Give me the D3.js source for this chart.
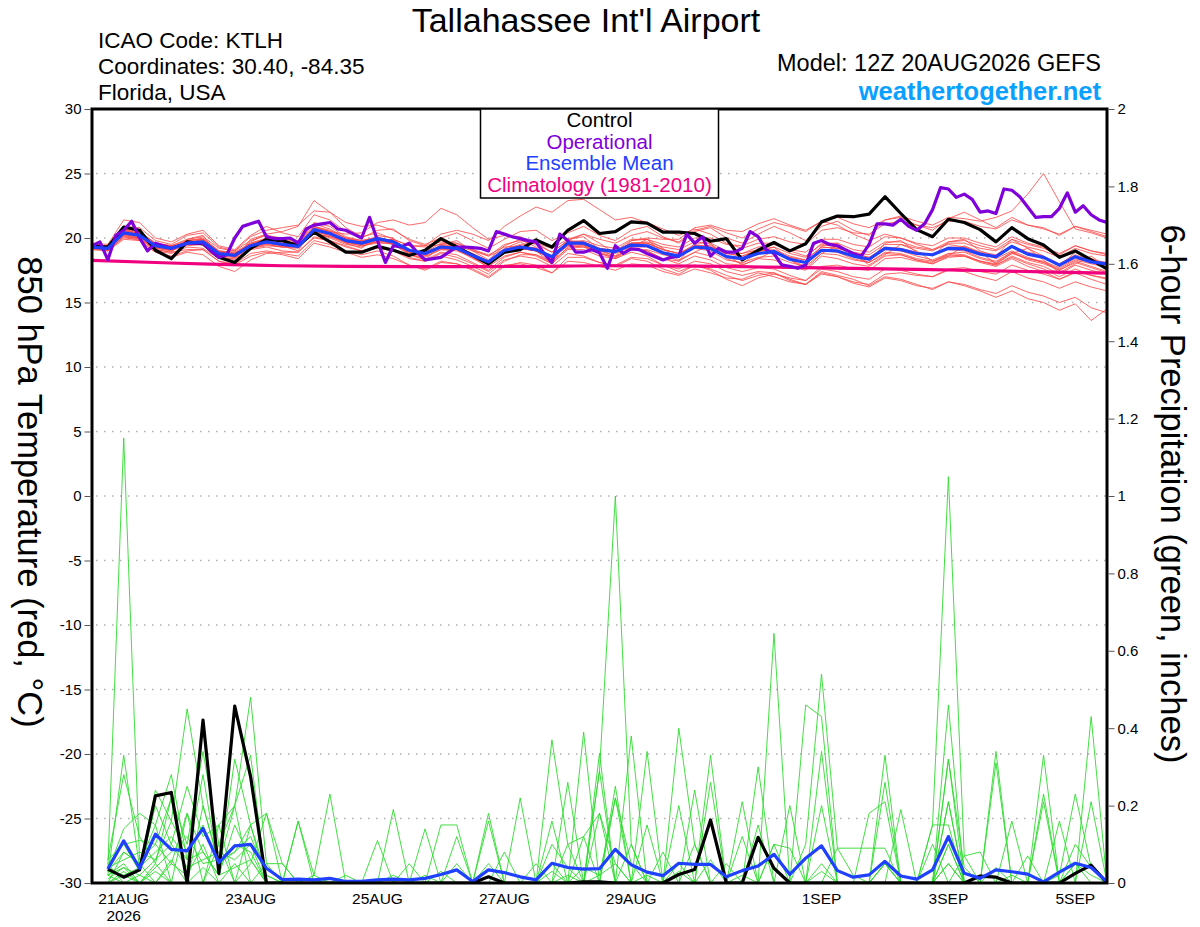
<!DOCTYPE html>
<html>
<head>
<meta charset="utf-8">
<script src="https://cdn.jsdelivr.net/npm/d3@7"></script>
<style>
body{margin:0;background:#fff;}
text{font-family:"Liberation Sans",Arial,Helvetica,sans-serif;}
</style>
</head>
<body>
<div id="chart"></div>
<script>
// ---- DATA ----
// 6-hourly from 12Z 20AUG2026, 850 hPa temperature in C
let controlTemp = [19.4,19.3,20.85,20.6,19.05,18.4,19.7,19.55,18.5,18.1,
  19.2,19.9,19.8,19.4,20.45,19.7,18.9,18.9,19.35,19.05,
  18.65,19.05,19.95,19.3,18.65,18.0,18.9,19.1,19.85,19.3,
  20.6,21.35,20.35,20.5,21.25,21.15,20.45,20.45,20.35,19.75,
  19.95,18.3,19.05,19.65,19.0,19.55,21.25,21.7,21.65,21.85,
  23.2,21.9,20.65,20.1,21.45,21.2,20.65,19.7,20.8,19.95,
  19.45,18.5,19.0,18.3,17.6];

let meanTemp = [19.3,19.2,20.4,20.2,19.4,19.2,19.6,19.7,18.8,18.65,
  19.4,19.7,19.5,19.35,20.65,20.35,19.8,19.6,19.95,19.7,
  19.05,18.8,19.3,19.2,18.65,18.15,19.05,19.3,19.1,18.55,
  19.6,19.6,19.1,18.95,19.45,19.4,18.85,18.6,19.3,19.2,
  18.55,18.4,18.8,18.95,18.35,18.1,19.05,19.0,18.6,18.35,
  19.2,19.1,18.8,18.7,19.2,19.15,18.75,18.55,19.35,18.75,
  18.5,17.9,18.55,18.15,18.0];

// operational run is 3-hourly
let operationalTemp = [19.4,19.7,18.3,20.2,20.6,21.3,20.0,19.0,19.6,19.4,19.2,19.4,19.6,19.6,19.6,19.0,
  18.5,18.7,20.0,20.9,21.1,21.3,20.1,19.95,19.95,20.0,19.6,20.7,21.0,21.1,21.2,20.7,
  20.6,20.3,20.0,21.6,19.8,18.1,19.4,19.3,19.6,18.9,18.3,18.4,18.5,18.9,19.3,19.3,
  19.25,19.2,19.0,20.5,20.3,20.1,19.95,19.8,19.7,18.8,18.1,20.3,19.8,18.9,18.9,19.1,
  18.85,
  17.65,19.4,18.8,19.15,19.1,18.8,18.55,18.3,18.5,18.6,20.3,19.6,20.1,18.6,19.2,
  18.9,18.9,19.2,20.5,20.1,19.1,18.8,17.9,17.8,17.65,17.9,19.6,19.8,19.5,19.4,19.1,
  18.8,18.6,19.5,21.1,21.1,21.0,21.45,20.9,20.6,21.1,22.2,23.9,23.8,23.15,23.4,23.0,
  22.0,22.1,21.9,23.8,23.7,23.2,22.4,21.6,21.65,21.65,22.3,23.5,22.0,22.5,21.8,21.4,21.2];

// daily at 12Z, 20AUG .. 5SEP
let climatologyTemp = [18.27,18.1,17.95,17.85,17.8,17.78,17.78,17.8,17.85,17.84,17.8,17.72,17.65,17.57,17.48,17.38,17.27];

let memberTemp = [
 [19.5,19.4,20.9,20.8,19.8,19.5,20.2,20.4,19.3,19.0, 20.1,20.6,20.8,21.0,22.1,22.0,21.2,20.9,21.0,20.6, 19.9,19.5,20.0,20.4,19.8,19.2,19.9,20.5,20.6,19.8, 20.4,20.9,20.2,19.8,20.6,20.9,20.1,19.6,20.5,20.8, 20.0,19.6,20.3,20.9,20.4,19.8,20.9,21.3,20.6,20.2, 21.4,21.6,21.0,20.6,21.5,22.0,21.4,20.8,21.6,21.0, 20.8,20.2,20.9,20.5,20.1],
 [19.1,19.0,19.9,19.8,18.9,18.6,19.0,19.1,18.2,17.9, 18.6,18.9,18.7,18.4,19.6,19.3,18.9,18.5,18.7,18.4, 17.9,17.5,18.1,18.0,17.6,17.0,17.9,18.0,17.7,17.3, 18.2,18.1,17.8,17.5,18.0,17.9,17.4,17.1,17.6,17.3, 16.9,16.8,17.3,17.0,16.6,16.4,17.2,17.0,16.5,16.2, 16.9,16.7,16.3,16.1,16.6,16.4,16.0,15.7,16.3,15.8, 15.5,15.0,15.4,14.6,14.2],
 [19.4,19.1,20.7,20.5,19.3,19.0,19.8,20.0,19.0,18.5, 19.7,20.3,20.5,20.9,22.9,22.0,20.8,20.1,20.4,19.9, 19.0,18.6,19.5,19.8,19.0,18.3,19.4,19.9,19.3,18.2, 19.8,20.3,19.6,18.8,19.3,19.9,19.2,18.3,18.9,19.5, 18.7,17.9,18.4,19.0,18.3,17.6,18.8,19.4,18.8,17.9, 18.7,19.5,19.0,18.2,18.6,19.4,18.9,18.0,18.8,19.2, 18.3,17.3,18.0,18.6,17.7],
 [19.2,19.3,20.2,20.0,19.5,19.4,19.5,19.6,18.9,18.9, 19.2,19.4,19.3,19.5,20.3,20.1,19.7,19.5,19.7,19.9, 19.4,19.3,19.5,19.4,19.0,18.6,19.1,19.5,19.6,19.2, 19.9,20.3,19.9,19.6,20.2,20.5,20.0,19.7,20.6,20.9, 20.4,20.0,20.7,21.2,20.9,20.5,21.3,21.6,21.1,20.8, 21.4,21.7,21.3,21.0,21.6,21.5,21.3,21.6,22.1,23.4, 25.0,22.8,20.7,20.4,20.0],
 [19.3,19.0,20.1,20.0,19.0,18.8,19.3,19.2,18.4,18.4, 19.1,19.3,19.0,18.9,20.1,19.8,19.4,19.0,19.3,19.1, 18.5,18.2,18.8,18.5,18.0,17.4,18.3,18.6,18.4,17.8, 18.8,18.6,18.1,17.8,18.4,18.2,17.6,17.2,17.9,17.6, 17.1,16.7,17.1,17.3,16.8,16.4,17.4,17.1,16.8,16.3, 17.0,16.8,16.4,16.0,16.6,16.3,15.9,15.4,15.9,15.3, 15.0,14.4,14.9,13.6,14.5],
 [19.6,19.5,21.4,21.2,20.0,19.7,20.3,20.6,19.4,19.1, 20.2,20.9,20.4,20.1,21.8,21.4,20.5,20.0,20.6,20.7, 19.8,19.4,19.7,19.6,19.1,18.7,19.3,19.4,19.0,18.5, 19.7,19.5,18.9,18.5,19.2,19.0,18.4,18.2,18.9,18.6, 18.0,17.9,18.4,18.3,17.8,17.5,18.6,18.4,18.0,17.8, 18.6,18.7,18.3,18.1,18.8,18.9,18.4,18.1,18.9,18.3, 18.0,17.5,18.2,17.8,17.4],
 [19.2,19.1,20.3,20.1,19.3,19.1,19.4,19.5,18.7,18.6, 19.3,19.5,19.3,19.2,20.4,20.0,19.5,19.3,19.8,19.9, 19.4,19.4,20.3,20.6,20.3,19.8,20.9,21.7,22.4,22.0, 22.9,23.0,22.2,21.4,21.6,21.2,20.7,20.2,20.7,20.3, 19.6,19.2,19.6,19.6,19.0,18.6,19.5,19.3,18.8,18.5, 19.3,19.2,18.9,18.7,19.1,19.0,18.5,18.2,18.9,18.4, 18.1,17.6,18.3,18.0,17.7],
 [19.3,19.3,20.6,20.3,19.5,19.1,19.8,19.9,18.9,18.6, 19.5,19.9,19.8,19.6,21.2,20.9,20.1,19.8,20.1,19.7, 18.8,18.3,18.9,18.7,18.1,17.5,18.5,18.9,18.7,18.0, 19.3,19.4,18.8,18.5,19.3,19.3,18.8,18.5,19.4,19.4, 18.8,18.6,19.1,19.3,18.8,18.5,19.6,19.6,19.1,18.9, 19.7,19.7,19.3,19.1,19.7,19.8,19.4,19.1,19.9,19.5, 19.2,18.7,19.4,19.0,18.8],
 [19.1,19.1,20.0,19.9,19.1,18.9,19.1,19.1,18.2,18.0, 18.8,19.0,18.8,18.6,19.8,19.5,19.0,18.7,19.0,18.6, 17.9,17.6,18.2,18.0,17.5,16.9,17.8,18.1,17.9,17.3, 18.5,18.5,18.1,17.9,18.5,18.4,17.9,17.6,18.2,18.0, 17.4,17.1,17.4,17.3,16.7,16.4,17.3,17.0,16.6,16.4, 17.2,17.3,17.1,17.0,17.6,17.7,17.4,17.2,17.9,17.5, 17.2,16.8,17.4,17.1,16.9],
 [19.4,19.2,20.5,20.4,19.6,19.3,19.6,19.9,19.0,18.8, 19.4,19.8,19.5,19.4,20.6,20.4,19.8,19.6,19.9,19.5, 18.9,18.7,19.2,19.2,18.8,18.2,19.0,19.4,19.2,18.6, 19.7,19.8,19.4,19.2,19.9,19.9,19.5,19.3,20.0,20.0, 19.5,19.4,19.9,20.1,19.7,19.5,20.6,20.8,20.4,20.3, 21.1,21.3,21.0,20.8,21.3,21.3,20.9,20.7,21.4,21.0, 20.7,20.3,20.9,20.6,20.3],
 [19.3,19.1,20.2,19.9,19.2,19.1,19.5,19.6,18.6,18.5, 19.2,19.5,19.3,19.3,20.5,20.2,19.7,19.4,19.6,19.6, 19.0,18.9,19.6,19.6,19.1,18.6,19.5,19.8,19.5,18.9, 19.8,19.6,19.0,18.6,19.2,19.0,18.4,18.0,18.6,18.3, 17.7,17.4,17.7,17.6,17.1,16.7,17.6,17.4,17.0,16.8, 17.6,17.5,17.2,17.0,17.5,17.4,17.0,16.7,17.4,16.9, 16.6,16.1,16.6,16.2,15.9],
 [19.2,19.2,20.4,20.2,19.3,19.2,19.7,19.8,18.9,18.8, 19.6,20.0,19.9,19.7,20.9,20.6,20.0,19.7,19.9,19.5, 18.7,18.5,19.1,19.1,18.6,18.0,18.9,19.2,19.0,18.4, 19.4,19.4,19.0,18.9,19.6,19.7,19.3,19.1,19.7,19.6, 19.0,18.8,19.1,19.0,18.5,18.1,19.0,18.9,18.4,18.1, 18.8,18.7,18.3,18.0,18.5,18.6,18.2,18.0,18.8,18.4, 18.2,17.7,18.4,18.1,17.9],
 [19.3,19.2,20.3,20.3,19.4,19.3,19.7,19.7,18.8,18.7, 19.5,19.9,19.7,19.6,20.8,20.5,20.3,20.4,21.2,21.4, 21.0,21.2,22.3,21.8,20.8,19.9,20.2,20.1,19.6,18.9, 19.8,19.7,19.2,19.0,19.6,19.6,19.1,18.8,19.4,19.2, 18.6,18.4,18.8,18.9,18.4,18.1,19.1,19.0,18.6,18.4, 19.2,19.1,18.8,18.7,19.3,19.3,18.9,18.7,19.4,18.9, 18.6,18.0,18.7,18.3,18.1],
 [19.2,19.0,20.1,19.8,18.9,18.5,18.9,18.7,17.8,17.4, 18.3,18.8,18.9,18.9,20.0,19.8,19.3,19.0,19.2,19.0, 18.4,18.2,18.6,18.3,17.8,17.2,18.2,18.7,18.7,18.2, 19.2,19.3,19.0,18.9,19.6,19.6,19.1,18.8,19.3,19.1, 18.5,18.3,18.8,18.9,18.5,18.3,19.3,19.2,18.8,18.5, 19.1,19.0,18.6,18.3,18.8,18.7,18.2,17.9,18.5,18.0, 17.6,17.0,17.6,17.1,16.8],
 [19.4,19.3,20.6,20.5,19.6,19.4,19.9,20.1,19.2,19.0, 19.8,20.2,20.0,19.8,21.1,20.7,20.0,19.7,20.0,19.8, 19.1,18.8,19.3,19.1,18.4,17.8,18.6,18.9,18.6,18.0, 19.1,19.1,18.6,18.4,19.1,19.1,18.7,18.5,19.3,19.3, 18.9,18.8,19.3,19.5,19.1,18.9,19.9,19.9,19.5,19.3, 20.1,20.0,19.6,19.4,20.0,20.0,19.6,19.3,20.1,19.6, 19.3,18.8,19.4,19.0,18.7],
 [19.3,19.2,20.4,20.1,19.3,19.2,19.6,19.6,18.7,18.6, 19.3,19.6,19.4,19.3,20.5,20.2,19.7,19.5,19.8,19.6, 18.9,18.7,19.2,19.1,18.6,18.0,18.9,19.2,19.0,18.4, 19.4,19.3,18.8,18.4,18.9,18.6,17.9,17.4,17.9,17.5, 16.8,16.3,16.9,17.2,16.9,16.7,17.8,17.9,17.6,17.5, 18.4,18.5,18.2,18.0,18.6,18.6,18.2,17.9,18.6,18.1, 17.8,17.2,17.9,17.5,17.2],
 [19.5,19.3,20.5,20.3,19.5,19.3,19.7,19.8,18.9,18.8, 19.5,19.8,19.6,19.5,20.7,20.4,19.9,19.7,20.0,19.8, 19.1,18.9,19.4,19.3,18.8,18.2,19.1,19.4,19.2,18.6, 19.7,19.7,19.2,19.0,19.8,20.0,19.9,19.9,20.8,21.0, 20.6,20.5,21.1,21.5,21.0,20.6,21.3,21.0,20.3,19.8, 20.3,20.0,19.5,19.1,19.5,19.3,18.8,18.4,19.0,18.5, 18.1,17.5,18.1,17.7,17.3],
 [19.2,19.1,20.3,20.0,19.2,19.0,19.5,19.5,18.6,18.5, 19.3,19.6,19.4,19.3,20.4,20.1,19.6,19.4,19.7,19.5, 18.8,18.6,19.1,19.0,18.5,17.9,18.8,19.2,19.0,18.4, 19.5,19.5,19.1,18.9,19.5,19.4,18.9,18.6,19.2,19.0, 18.3,18.1,18.5,18.6,18.1,17.8,18.8,18.7,18.3,18.1, 18.9,18.8,18.4,18.2,18.7,18.6,18.1,17.8,18.4,17.8, 17.4,16.8,17.3,16.8,16.4],
 [19.3,19.4,20.8,20.1,19.1,18.9,19.9,20.2,18.6,18.3, 19.9,20.3,19.4,19.0,20.9,20.5,19.6,19.2,20.2,20.0, 18.7,18.3,19.4,19.5,18.5,17.7,19.2,19.7,19.0,18.0, 19.9,20.1,19.1,18.6,19.8,19.9,18.8,18.2,19.6,19.6, 18.4,18.0,18.9,19.3,18.3,17.8,19.4,19.6,18.6,18.1, 19.6,19.8,18.9,18.6,19.7,19.9,19.0,18.6,19.9,19.2, 18.6,17.8,18.9,18.4,18.0],
 [19.4,19.3,20.6,20.4,19.6,19.4,19.8,19.9,19.0,18.9, 19.6,19.9,19.7,19.6,20.8,20.5,20.0,19.8,20.0,19.7, 19.0,18.8,19.3,19.2,18.6,18.0,18.9,19.2,19.0,18.5, 19.6,19.6,19.2,19.0,19.6,19.6,19.1,18.8,19.5,19.3, 18.8,18.6,19.0,19.1,18.6,18.3,19.3,19.2,18.9,18.7, 19.5,19.5,19.2,19.0,19.6,19.6,19.2,19.0,19.7,19.3, 19.0,18.5,19.2,18.8,18.6]
];

// 6-hour precipitation (inches), periods ending 18Z 20AUG .. 12Z 5SEP
let controlPrecip = [0.036,0.015,0.034,0.225,0.234,0,0.421,0.025,0.457,0.275,
  0,0,0,0,0,0,0,0,0,0,
  0,0,0,0,0.016,0,0,0,0,0,
  0.003,0.003,0,0,0,0,0.022,0.035,0.163,0,
  0,0.118,0.038,0,0,0,0,0,0,0,
  0,0,0,0,0,0.018,0.015,0,0,0,
  0,0.025,0.046,0];

let meanPrecip = [0.036,0.109,0.038,0.126,0.087,0.083,0.141,0.053,0.096,0.1,
  0.038,0.009,0.01,0.008,0.012,0.004,0.004,0.008,0.01,0.008,
  0.012,0.022,0.034,0.004,0.034,0.027,0.016,0.008,0.051,0.04,
  0.036,0.037,0.087,0.047,0.028,0.019,0.051,0.048,0.048,0.016,
  0.032,0.044,0.074,0.022,0.064,0.096,0.032,0.015,0.021,0.056,
  0.018,0.01,0.034,0.12,0.025,0.012,0.034,0.029,0.023,0.003,
  0.028,0.051,0.04,0.003];

let memberPrecip = [
 [0.04,1.15,0.06,0.10,0.05,0.18,0.08,0.02,0.15,0.06,0,0,0,0,0.01,0, 0,0,0.02,0,0,0.03,0,0,0.05,0,0,0,0.10,0.04,0,0.02, 0.22,0.05,0,0,0.03,0,0,0,0.02,0,0.10,0,0,0.03,0,0, 0,0.05,0,0,0,0.32,0.04,0,0,0.02,0,0,0,0.05,0.02,0],
 [0.02,0.33,0.04,0.24,0.16,0.45,0.20,0.05,0.08,0.15,0.02,0,0,0,0,0, 0,0,0,0,0.02,0,0,0,0,0,0,0,0.03,0,0.12,0.18, 0.05,0,0.02,0,0,0,0.06,0,0,0,0,0,0.10,0.54,0.09,0.02, 0,0,0,0,0,0.05,0,0,0,0,0,0,0.02,0.23,0.04,0],
 [0.06,0.28,0.12,0.05,0.22,0.10,0.34,0.10,0.20,0.48,0.05,0,0,0,0,0, 0,0,0,0,0,0,0,0,0,0,0,0,0,0,0,0, 0,0,0,0,0,0,0,0,0,0,0,0,0,0,0,0, 0,0.05,0,0,0,0.21,0,0,0,0,0,0,0,0,0,0],
 [0.03,0.14,0.18,0.15,0.28,0.06,0.28,0.03,0.32,0.15,0.18,0.05,0,0,0,0, 0,0,0,0,0,0,0,0,0,0,0,0,0,0.02,0,0.29, 1.00,0.10,0,0,0,0,0,0,0,0,0,0,0,0,0,0, 0,0,0,0,0,0.05,0,0,0,0,0,0,0,0,0,0],
 [0.05,0.10,0.03,0.20,0.10,0.25,0.12,0.15,0.20,0.33,0,0,0.16,0.02,0,0, 0,0,0,0,0,0,0,0,0,0,0,0,0,0,0,0, 0,0,0,0,0,0,0,0,0,0,0,0,0,0,0,0, 0,0,0,0,0.15,1.05,0.07,0,0,0,0,0,0,0,0,0],
 [0,0.08,0.05,0,0.05,0.02,0.10,0,0.05,0,0,0,0,0.02,0.23,0, 0,0,0,0,0,0,0,0,0,0,0,0,0.37,0.10,0,0, 0,0,0,0,0,0,0,0,0,0,0,0,0,0.34,0,0, 0,0,0,0,0,0,0,0,0,0,0,0,0,0,0,0],
 [0.02,0.05,0,0,0,0,0,0,0,0,0,0,0,0,0,0, 0,0,0.19,0,0,0.15,0.15,0,0,0,0,0,0,0,0,0, 0,0,0,0,0.40,0.10,0,0,0,0,0,0,0,0,0,0, 0,0.33,0,0,0,0,0,0,0,0,0,0,0,0,0,0],
 [0,0.03,0,0.05,0,0,0.04,0,0,0.05,0.18,0,0,0,0,0, 0,0,0,0,0,0,0,0,0.18,0,0,0,0,0,0.39,0, 0,0,0,0,0,0,0,0,0,0,0.645,0,0,0,0,0, 0,0,0,0,0,0,0,0,0.34,0,0,0,0,0,0,0],
 [0,0,0.02,0,0,0,0,0,0,0,0,0,0,0,0,0, 0,0,0,0,0.14,0,0,0,0,0,0.22,0,0,0.26,0,0, 0,0.38,0,0,0,0,0,0,0,0,0,0,0.46,0.43,0,0, 0,0,0,0,0,0,0,0,0,0,0,0.33,0,0,0,0],
 [0.03,0.02,0,0,0.06,0,0,0,0,0,0,0,0,0,0,0, 0,0.11,0,0,0,0,0,0,0,0,0,0,0,0,0,0.335, 0,0,0.34,0,0,0,0.33,0,0,0,0,0,0,0,0,0, 0,0,0,0,0,0.46,0,0,0,0,0,0,0,0,0.43,0],
 [0.05,0,0,0.03,0,0,0,0,0,0,0,0,0,0,0,0, 0,0,0,0,0,0,0.12,0,0.16,0,0,0,0.16,0,0,0, 0,0,0,0,0,0.24,0,0,0,0.30,0,0,0,0,0,0, 0,0.26,0,0,0,0.32,0,0,0,0,0,0,0,0,0,0],
 [0,0,0,0,0,0,0,0,0,0,0,0,0.16,0,0,0, 0,0,0,0,0,0,0,0,0,0,0,0,0,0,0,0, 0.25,0,0,0,0.20,0,0.26,0,0,0,0,0.20,0,0.20,0,0, 0,0,0,0,0,0,0,0,0.31,0,0,0.23,0,0,0,0],
 [0,0,0,0,0,0,0,0,0,0,0,0,0,0,0,0, 0,0,0,0,0,0,0,0,0,0,0,0,0,0,0,0.29, 0,0,0,0,0,0,0,0,0.21,0,0,0,0,0,0,0, 0.18,0.21,0,0,0,0.21,0,0,0,0.16,0,0.21,0,0,0,0],
 [0.06,0.10,0.11,0.10,0.22,0,0,0.10,0,0.15,0,0,0,0,0,0, 0,0,0,0,0,0,0,0,0,0,0,0,0,0,0,0, 0.22,0,0,0,0,0,0,0,0,0,0,0,0,0,0,0, 0,0,0.19,0,0,0,0,0,0,0,0,0,0.16,0,0.21,0],
 [0.02,0.04,0,0,0,0,0.20,0.05,0.20,0,0,0,0,0,0,0, 0,0,0,0,0,0,0,0,0,0,0,0,0,0.10,0.12,0, 0,0,0.15,0,0,0,0,0,0,0.15,0,0,0,0,0,0, 0,0,0,0,0.15,0.15,0,0,0,0,0,0,0,0,0,0],
 [0.03,0.08,0.05,0.15,0,0.18,0,0.15,0,0,0.05,0.05,0,0,0,0, 0,0,0,0.05,0,0,0,0,0,0.08,0,0,0,0,0,0.18, 0,0.10,0,0.08,0,0,0,0,0.12,0,0,0,0,0,0.09,0.09, 0.09,0.09,0,0,0.10,0,0.07,0.08,0,0,0.07,0,0,0,0,0],
 [0.04,0.06,0.08,0.06,0.16,0.08,0.15,0.04,0.10,0.08,0,0,0,0,0,0.02, 0,0,0,0,0,0,0.05,0,0,0,0,0.05,0,0,0,0, 0,0,0,0,0,0.10,0,0.05,0,0,0.10,0.09,0,0,0,0, 0,0,0,0,0,0,0,0,0,0,0,0,0,0.05,0,0],
 [0,0.02,0.04,0.08,0.12,0.06,0.08,0.02,0.04,0.06,0,0,0,0,0,0, 0,0,0,0,0,0,0,0,0,0,0,0,0.05,0,0.04,0.02, 0.05,0,0,0,0.05,0,0,0,0,0,0,0,0,0.05,0,0, 0,0.05,0,0,0,0.10,0,0,0,0,0,0,0,0.10,0.04,0],
 [0.02,0,0,0.04,0.08,0.12,0.05,0.06,0.08,0.12,0.02,0,0,0,0,0, 0,0,0,0,0,0,0,0,0,0,0,0,0,0,0,0, 0,0,0,0,0,0,0,0,0,0,0,0,0,0,0,0, 0,0,0,0,0,0,0,0,0.04,0,0,0,0,0,0,0],
 [0.01,0.04,0.02,0.06,0.10,0.04,0.06,0.08,0.06,0.10,0,0,0,0,0,0, 0,0,0,0,0,0,0,0,0,0,0,0,0,0,0,0, 0,0,0,0,0,0,0,0,0,0,0,0,0,0,0,0, 0,0,0,0,0,0.10,0,0,0,0,0,0,0,0,0,0]
];

// axes
let tempTicks = [30,25,20,15,10,5,0,-5,-10,-15,-20,-25,-30];
let precipTicks = [0,0.2,0.4,0.6,0.8,1,1.2,1.4,1.6,1.8,2];
let dayTicks = ["2026-08-21","2026-08-23","2026-08-25","2026-08-27","2026-08-29","2026-09-01","2026-09-03","2026-09-05"];
let dayLabels = ["21AUG","23AUG","25AUG","27AUG","29AUG","1SEP","3SEP","5SEP"];
let legendItems = ["Control","Operational","Ensemble Mean","Climatology (1981-2010)"];

// ---- LAYOUT ----
let width = 1200, height = 927;
let plot = {left:92, right:1107, top:109, bottom:883};
let hour = 3600*1000;
let runStart = Date.UTC(2026,7,20,12);

let colors = {control:"#000000", operational:"#7f00d9", mean:"#2040ff", clim:"#f0007f",
              member:"#ff4545", precip:"#2edb2e"};

let svg = d3.select("#chart").append("svg")
  .attr("width",width)
  .attr("height",height)
  .style("background","#fff");

let x = d3.scaleUtc()
  .domain([new Date(runStart), new Date(runStart + 384*hour)])
  .range([plot.left, plot.right]);
let yT = d3.scaleLinear().domain([-30,30]).range([plot.bottom, plot.top]);
let yP = d3.scaleLinear().domain([0,2]).range([plot.bottom, plot.top]);

// line generators, step in hours and offset of first value
function lineFor(y, step, offset){
  return d3.line()
    .x((d,i)=>x(new Date(runStart + (offset + i*step)*hour)))
    .y(d=>y(d));
}
let tempLine = lineFor(yT,6,0),
    opLine = lineFor(yT,3,0),
    precipLine = lineFor(yP,6,6),
    climLine = lineFor(yT,24,0).curve(d3.curveMonotoneX);

svg.append("defs").append("clipPath").attr("id","plotclip")
  .append("rect")
  .attr("x",plot.left).attr("y",plot.top)
  .attr("width",plot.right-plot.left).attr("height",plot.bottom-plot.top);

// dotted grid
svg.append("g").selectAll("line")
  .data(tempTicks.filter(d=>d>-30 && d<30))
  .enter().append("line")
    .attr("x1",plot.left+4).attr("x2",plot.right)
    .attr("y1",d=>yT(d)).attr("y2",d=>yT(d))
    .attr("stroke","#b0b0b0")
    .attr("stroke-width",1.3)
    .attr("stroke-dasharray","1.5,6.5");

let g = svg.append("g").attr("clip-path","url(#plotclip)");

// ensemble members
g.append("g").selectAll("path").data(memberTemp)
  .enter().append("path")
    .attr("d",tempLine)
    .attr("fill","none")
    .attr("stroke",colors.member)
    .attr("stroke-opacity",0.9)
    .attr("stroke-width",0.9);

g.append("g").selectAll("path").data(memberPrecip)
  .enter().append("path")
    .attr("d",precipLine)
    .attr("fill","none")
    .attr("stroke",colors.precip)
    .attr("stroke-width",0.9);

// main series
function heavy(d, gen, color){
  g.append("path").datum(d)
    .attr("d",gen)
    .attr("fill","none")
    .attr("stroke",color)
    .attr("stroke-width",3.2)
    .attr("stroke-linejoin","round");
}
heavy(climatologyTemp, climLine, colors.clim);
heavy(controlPrecip, precipLine, colors.control);
heavy(meanPrecip, precipLine, colors.mean);
heavy(controlTemp, tempLine, colors.control);
heavy(operationalTemp, opLine, colors.operational);
heavy(meanTemp, tempLine, colors.mean);

// frame
svg.append("rect")
  .attr("x",plot.left).attr("y",plot.top)
  .attr("width",plot.right-plot.left).attr("height",plot.bottom-plot.top)
  .attr("fill","none").attr("stroke","#000").attr("stroke-width",3);

// left axis
let leftAxis = svg.append("g")
  .attr("transform","translate("+(plot.left-1.5)+",0)")
  .call(d3.axisLeft(yT).tickValues(tempTicks).tickSize(6).tickPadding(3).tickFormat(d=>String(d)));
leftAxis.select(".domain").remove();

// right axis
let rightAxis = svg.append("g")
  .attr("transform","translate("+(plot.right+1.5)+",0)")
  .call(d3.axisRight(yP).tickValues(precipTicks).tickSize(6).tickPadding(3).tickFormat(d=>String(d)));
rightAxis.select(".domain").remove();

svg.selectAll(".tick text")
  .style("font-family","'Liberation Sans',Arial,sans-serif")
  .style("font-size","15px")
  .attr("fill","#000");
svg.selectAll(".tick line").attr("stroke","#555");

// date labels
let xl = svg.append("g");
xl.selectAll("text").data(dayTicks)
  .enter().append("text")
    .attr("x",d=>x(new Date(d+"T00:00:00Z")))
    .attr("y",904)
    .attr("text-anchor","middle")
    .style("font-size","15.5px")
    .text((d,i)=>dayLabels[i]);
xl.append("text")
  .attr("x",x(new Date(dayTicks[0]+"T00:00:00Z")))
  .attr("y",921)
  .attr("text-anchor","middle")
  .style("font-size","15.5px")
  .text("2026");

// axis titles
svg.append("text")
  .attr("transform","translate(18,492) rotate(90)")
  .attr("text-anchor","middle")
  .style("font-size","34.5px")
  .text("850 hPa Temperature (red, °C)");
svg.append("text")
  .attr("transform","translate(1161,494) rotate(90)")
  .attr("text-anchor","middle")
  .style("font-size","34.5px")
  .text("6-hour Precipitation (green, inches)");

// header texts
svg.append("text")
  .attr("x",586).attr("y",32)
  .attr("text-anchor","middle")
  .style("font-size","34px")
  .text("Tallahassee Int'l Airport");

let info = ["ICAO Code: KTLH","Coordinates: 30.40, -84.35","Florida, USA"];
svg.append("g").selectAll("text").data(info)
  .enter().append("text")
    .attr("x",98)
    .attr("y",(d,i)=>48 + i*26)
    .style("font-size","22.5px")
    .text(d=>d);

svg.append("text")
  .attr("x",1101).attr("y",71)
  .attr("text-anchor","end")
  .style("font-size","23.5px")
  .text("Model: 12Z 20AUG2026 GEFS");
svg.append("text")
  .attr("x",1101).attr("y",100)
  .attr("text-anchor","end")
  .style("font-size","25.5px")
  .style("font-weight","bold")
  .attr("fill","#0aa0ff")
  .text("weathertogether.net");

// legend
let legendColors = [colors.control, colors.operational, colors.mean, colors.clim];
let legend = svg.append("g");
legend.append("rect")
  .attr("x",480.5).attr("y",plot.top)
  .attr("width",238).attr("height",89)
  .attr("fill","#fff").attr("stroke","#000").attr("stroke-width",1.5);
legend.selectAll("text").data(legendItems)
  .enter().append("text")
    .attr("x",599.5)
    .attr("y",(d,i)=>127 + i*21.5)
    .attr("text-anchor","middle")
    .style("font-size","20.5px")
    .attr("fill",(d,i)=>legendColors[i])
    .text(d=>d);
</script>
</body>
</html>
